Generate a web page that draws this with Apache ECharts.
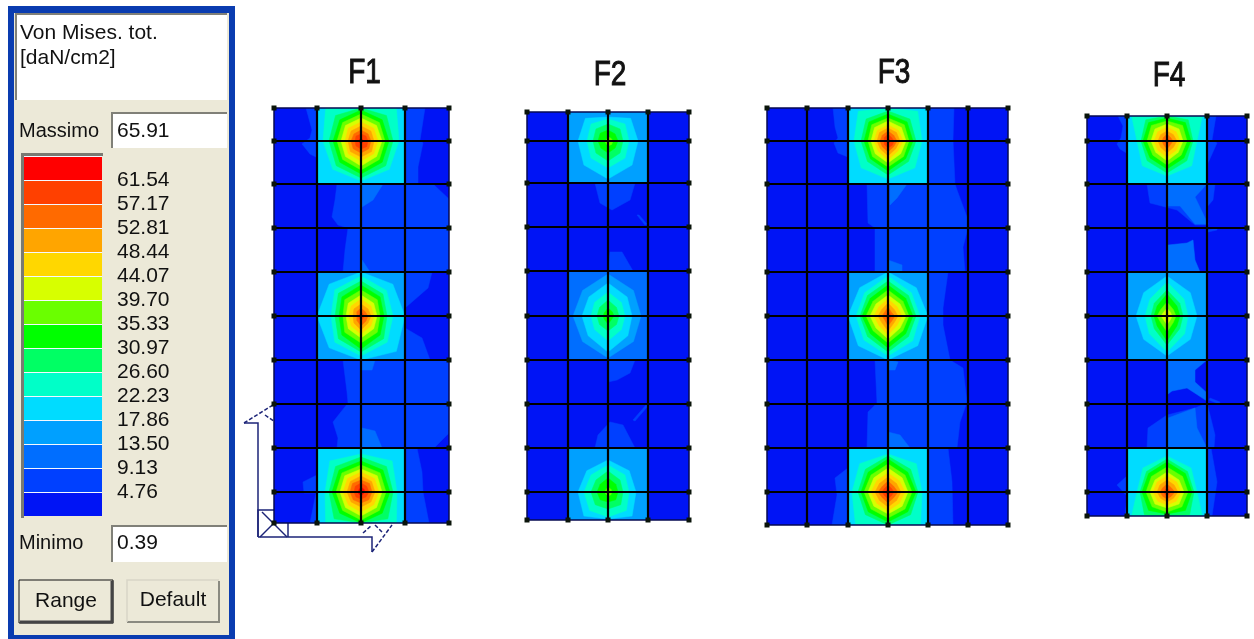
<!DOCTYPE html>
<html><head><meta charset="utf-8">
<script src="https://cdn.jsdelivr.net/npm/echarts@6/dist/echarts.min.js"></script>
<style>html,body{margin:0;padding:0;background:#fff}#c{width:1254px;height:639px;filter:blur(0.4px)}</style>
</head><body><div id="c"></div>
<script>
// ---------- legend ----------
const legendLevels = [0.39,4.76,9.13,13.50,17.86,22.23,26.60,30.97,35.33,39.70,44.07,48.44,52.81,57.17,61.54,65.91];
const legendColors = ['#0014f5','#0040ff','#006eff','#00a0ff','#00dcff','#00ffc8','#00ff64','#00ff00','#6aff00','#d7ff00','#ffd700','#ffa500','#ff6a00','#ff4000','#ff0000'];
const titleText = ['Von Mises. tot.','[daN/cm2]'];
const maxValue = '65.91', minValue = '0.39';
const panelNames = ['F1','F2','F3','F4'];

// ---------- mesh lines per panel (distance from panel's top-left) ----------
const F1_meshX=[0,43,87,131,175], F1_meshY=[0,33,76,120,164,208,252,296,340,384,415];
const F2_meshX=[0,41,81,121,162], F2_meshY=[0,29,71,115,159,204,248,292,336,380,408];
const F3_meshX=[0,40,81,121,161,201,241], F3_meshY=[0,33,76,120,164,208,252,296,340,384,417];
const F4_meshX=[0,40,80,120,160], F4_meshY=[0,25,68,112,156,200,244,288,332,376,400];

// ---------- low-stress zones: [band, [x,y],[x,y]...] ----------
const F1_zones=[
 [1,[32,0],[44,0],[44,50],[36,46],[28,36],[36,30],[38,22]],
 [1,[130,0],[151,0],[146,32],[149,35],[144,59],[144,76],[130,76]],
 [1,[63,76],[159,76],[175,91],[175,164],[69,164],[71,142],[74,120],[64,117],[58,109],[61,92]],
 [1,[131,164],[158,164],[154,180],[131,200]],
 [1,[131,220],[148,230],[156,252],[131,252]],
 [1,[69,252],[175,252],[175,325],[160,340],[63,340],[64,330],[59,314],[74,295],[73,284]],
 [1,[131,340],[143,340],[148,364],[149,384],[155,415],[131,415]],
 [1,[29,374],[43,367],[43,415],[36,415],[42,385],[30,385]],
 [2,[88,76],[109,76],[99,92],[88,99]],
 [2,[88,152],[96,164],[88,164]],
 [2,[88,252],[101,252],[98,262],[88,262]],
 [2,[88,320],[101,323],[108,340],[88,340]]
];
const F2_zones=[
 [1,[68,71],[108,71],[103,88],[85,98],[73,91]],
 [1,[110,103],[112,103],[120,112],[118,113]],
 [1,[83,140],[95,140],[106,159],[81,159]],
 [1,[81,248],[108,248],[103,261],[90,268],[81,270]],
 [1,[106,308],[119,293],[121,294],[108,309]],
 [1,[83,310],[96,313],[108,336],[68,336],[71,323]]
];
const F3_zones=[
 [1,[66,0],[81,0],[81,49],[71,45],[67,35],[71,30],[68,19]],
 [1,[161,0],[187,0],[186,32],[188,76],[161,76]],
 [1,[100,76],[188,76],[190,82],[200,109],[201,120],[196,139],[198,164],[108,164],[108,120],[101,115]],
 [1,[161,164],[181,164],[176,200],[176,217],[183,252],[161,252]],
 [1,[108,252],[183,252],[196,260],[200,294],[193,314],[190,340],[100,340],[101,304],[110,295]],
 [1,[161,340],[181,340],[185,374],[186,417],[161,417]],
 [1,[68,370],[81,360],[81,417],[65,417],[70,387]],
 [2,[123,76],[140,76],[130,90],[123,97]],
 [2,[121,252],[131,254],[128,262],[121,262]],
 [2,[121,324],[133,327],[143,340],[121,340]],
 [2,[121,152],[135,157],[135,164],[121,164]]
];
const F4_zones=[
 [1,[31,0],[41,0],[41,38],[33,33],[30,28],[34,22],[36,10]],
 [1,[120,0],[129,0],[125,24],[130,27],[121,47],[120,68]],
 [1,[60,68],[128,68],[126,84],[120,91],[121,109],[108,109],[90,94],[63,87]],
 [2,[81,68],[120,68],[108,81],[121,108],[108,108],[93,90],[81,90]],
 [1,[121,114],[130,112],[130,114],[121,116]],
 [2,[81,129],[100,127],[106,124],[108,144],[113,156],[81,156]],
 [2,[81,244],[120,244],[108,254],[108,266],[120,277],[120,285],[100,272],[85,275],[81,278]],
 [1,[123,282],[133,286],[132,288],[122,284]],
 [1,[60,332],[61,312],[80,299],[108,292],[120,287],[128,319],[127,332]],
 [2,[81,302],[108,292],[110,312],[120,332],[81,332]],
 [1,[120,332],[124,332],[130,366],[125,400],[120,400]],
 [1,[30,369],[41,359],[41,400],[38,400],[40,380]]
];

// ---------- hot spots: [centreX, centreY, plateLeft, plateTop, plateRight, plateBottom, plateBand] ----------
const F1_spots=[[87,33,43,0,131,76,4],[87,208,43,164,131,252,3],[87,384,43,340,131,415,4]];
const F2_spots=[[81,29,41,0,121,71,3],[81,204,41,159,121,248,2],[81,380,41,336,121,408,3]];
const F3_spots=[[121,33,81,0,161,76,4],[121,208,81,164,161,252,3],[121,384,81,340,161,417,4]];
const F4_spots=[[80,25,40,0,120,68,4],[80,200,40,156,120,244,3],[80,376,40,332,120,400,4]];

// ---------- contour rings: [band, E,NE,N,NW,W,SW,S,SE] reach from the spot centre ----------
const F1_rings=[[
 [5,38,50,35,50,38,40,40,40],[6,32,36,33,36,32,35,37,35],[7,28,30,31,30,28,30,33,30],[8,24,26,27,26,24,26,29,26],[9,21,22,23,22,20,22,25,22],[10,17,18,19,18,16,18,20,18],[11,13,14,15,14,13,15,16,15],[12,10,10,11,10,10,11,12,11],[13,7,7,7,7,6,7,8,8],[14,2,2,3,2,2,2,3,2]
],[
 [4,44,45,44,45,44,45,44,50],[5,32,36,40,37,30,37,40,37],[6,26,31,35,32,26,32,36,32],[7,23,27,31,27,22,27,33,27],[8,19,23,26,23,18,23,27,23],[9,16,18,21,18,15,18,22,18],[10,13,14,17,14,12,14,18,14],[11,10,10,12,10,8,10,14,10],[12,7,6,8,6,4,6,10,7],[13,4,3,4,2,2,3,5,3]
],[
 [5,36,44,38,44,36,50,32,50],[6,32,36,35,36,32,38,32,38],[7,29,31,31,31,29,30,32,30],[8,25,27,27,27,25,26,28,26],[9,21,23,23,23,21,22,24,22],[10,18,19,20,19,18,18,20,18],[11,14,15,16,15,14,14,15,14],[12,11,12,12,12,11,11,11,11],[13,8,8,9,8,7,7,7,7],[14,4,4,5,3,3,3,3,3]
]];
const F2_rings=[[
 [4,30,32,24,32,30,34,38,34],[5,21,24,22,24,21,24,27,24],[6,15,17,17,17,15,17,20,17],[7,10,10,11,11,10,10,12,10],[8,5,4,4,2,3,3,5,5]
],[
 [3,33,36,42,36,35,36,42,36],[4,24,27,33,27,26,28,36,28],[5,17,19,24,19,17,19,25,19],[6,11,12,16,12,11,12,15,12],[7,6,6,8,5,5,5,8,5]
],[
 [4,28,30,32,30,30,34,27,34],[5,21,24,27,24,24,26,25,26],[6,15,17,21,17,17,18,17,18],[7,10,11,14,11,11,11,10,11],[8,4,4,5,3,3,3,4,4]
]];
const F3_rings=[[
 [5,34,42,33,42,34,38,38,38],[6,28,31,30,31,27,29,34,29],[7,25,27,27,27,24,25,30,25],[8,21,23,23,23,20,22,26,22],[9,18,19,20,19,17,18,22,18],[10,15,15,16,15,14,14,19,14],[11,12,12,13,12,11,11,15,11],[12,9,8,10,8,8,8,11,8],[13,6,5,7,5,4,5,7,6],[14,2,2,2,1,1,1,2,2]
],[
 [4,40,40,44,40,40,42,44,42],[5,32,33,40,33,32,34,40,35],[6,28,29,35,29,28,29,36,29],[7,25,25,31,25,26,25,32,25],[8,21,21,26,21,22,21,27,21],[9,18,17,21,17,18,17,23,17],[10,14,13,17,13,14,13,19,13],[11,10,9,13,9,10,9,15,9],[12,7,5,9,5,6,5,10,6],[13,3,3,5,2,2,2,5,3]
],[
 [5,34,40,38,40,36,46,33,46],[6,30,32,36,32,30,32,33,32],[7,28,28,33,28,27,28,30,28],[8,24,24,28,24,24,24,26,24],[9,20,20,24,20,20,20,22,20],[10,17,16,19,16,17,16,19,16],[11,13,12,15,12,13,12,15,12],[12,10,8,11,8,10,8,11,8],[13,6,5,7,5,6,5,7,5],[14,3,2,3,2,2,2,3,2]
]];
const F4_rings=[[
 [5,30,50,25,50,30,35,35,35],[6,26,30,25,30,26,28,32,28],[7,24,26,23,26,24,24,28,24],[8,20,22,20,22,20,20,24,20],[9,16,17,17,17,16,16,20,16],[10,13,13,14,13,13,13,16,13],[11,10,9,10,9,9,9,12,9],[12,6,5,7,5,5,5,8,5],[13,3,2,3,2,3,2,3,2]
],[
 [4,30,33,40,33,31,33,40,33],[5,21,24,34,24,22,25,36,25],[6,16,18,26,18,16,18,29,18],[7,13,14,22,14,13,14,25,14],[8,9,9,14,9,10,9,16,9],[9,5,5,8,5,6,5,9,5],[10,2,2,4,1,2,1,4,2]
],[
 [5,30,34,36,34,30,50,24,50],[6,27,29,33,29,27,32,24,32],[7,25,26,30,26,25,26,22,26],[8,21,22,25,22,21,21,20,21],[9,17,17,20,17,17,17,16,17],[10,14,14,16,14,14,13,13,13],[11,11,10,12,10,10,9,10,9],[12,8,6,8,6,7,6,7,6],[13,4,3,4,3,3,3,4,3]
]];

// ---------- assemble ----------
const panelMesh=[[F1_meshX,F1_meshY],[F2_meshX,F2_meshY],[F3_meshX,F3_meshY],[F4_meshX,F4_meshY]];
const panelZones=[F1_zones,F2_zones,F3_zones,F4_zones];
const panelSpots=[F1_spots,F2_spots,F3_spots,F4_spots];
const panelRings=[F1_rings,F2_rings,F3_rings,F4_rings];
const panelBox=[[274,108],[527,112],[767,108],[1087,116]];
const titlePos=[[364.5,73],[610,75.5],[894,73],[1169,76.5]];
const K=Math.SQRT1_2;
const DIRS=[[1,0],[K,-K],[0,-1],[-K,-K],[-1,0],[-K,K],[0,1],[K,K]];
const clampTo=(v,a,b)=>Math.max(a,Math.min(b,v));

function buildShapes(i){
  const mx=panelMesh[i][0], my=panelMesh[i][1], W=mx[mx.length-1], H=my[my.length-1];
  const out=[{band:0,pts:[[0,0],[W,0],[W,H],[0,H]]}];
  panelZones[i].forEach(z=>out.push({band:z[0],pts:z.slice(1)}));
  panelSpots[i].forEach((s,k)=>{
    const [cx,cy,l,t,r,b,base]=s;
    out.push({band:base,pts:[[l,t],[r,t],[r,b],[l,b]]});
    panelRings[i][k].forEach(ring=>{
      const pts=DIRS.map((d,j)=>[clampTo(cx+d[0]*ring[j+1],l,r),clampTo(cy+d[1]*ring[j+1],t,b)]);
      out.push({band:ring[0],pts});
    });
  });
  return out;
}
function buildMesh(i){
  const mx=panelMesh[i][0], my=panelMesh[i][1], W=mx[mx.length-1], H=my[my.length-1], seg=[];
  mx.forEach(x=>seg.push([[x,0],[x,H],(x===0||x===W)]));
  my.forEach(y=>seg.push([[0,y],[W,y],(y===0||y===H)]));
  return seg;
}
function buildNodes(i){
  const mx=panelMesh[i][0], my=panelMesh[i][1], W=mx[mx.length-1], H=my[my.length-1], n=[];
  mx.forEach(x=>my.forEach(y=>{ if(x===0||x===W||y===0||y===H) n.push([x,y]); }));
  return n;
}

const grids=[],xAxes=[],yAxes=[],series=[];
// legend strip
grids.push({left:24,top:156,width:78,height:360,show:false});
xAxes.push({type:'value',gridIndex:0,min:0,max:1,show:false});
yAxes.push({type:'value',gridIndex:0,min:legendLevels[0],max:legendLevels[15],position:'right',
  axisLine:{show:false},axisTick:{show:false},splitLine:{show:false},
  axisLabel:{show:true,margin:15,padding:[0,0,8,0],fontFamily:'Liberation Sans',fontSize:21,color:'#111',
    customValues:legendLevels.slice(1,15),formatter:v=>v.toFixed(2)}});
series.push({type:'custom',xAxisIndex:0,yAxisIndex:0,silent:true,
  data:legendColors.map((c,k)=>[k]),
  renderItem:(p,api)=>{
    const k=p.dataIndex, a=api.coord([0,legendLevels[k+1]]), b=api.coord([1,legendLevels[k]]);
    return {type:'group',children:[
      {type:'rect',shape:{x:a[0],y:a[1],width:b[0]-a[0],height:b[1]-a[1]},style:{fill:'#f4f8ff'}},
      {type:'rect',shape:{x:a[0],y:a[1]+1,width:b[0]-a[0],height:b[1]-a[1]-1},style:{fill:legendColors[k]}}
    ]};
  }});

panelNames.forEach((name,i)=>{
  const mx=panelMesh[i][0], my=panelMesh[i][1], W=mx[mx.length-1], H=my[my.length-1];
  const g=i+1;
  grids.push({left:panelBox[i][0],top:panelBox[i][1],width:W,height:H,show:false});
  xAxes.push({type:'value',gridIndex:g,min:0,max:W,show:false});
  yAxes.push({type:'value',gridIndex:g,min:0,max:H,inverse:true,show:false});
  const shapes=buildShapes(i), mesh=buildMesh(i);
  series.push({type:'custom',name,xAxisIndex:g,yAxisIndex:g,silent:true,clip:true,z:3,
    data:shapes.map((s,k)=>[k]),
    renderItem:(p,api)=>{
      const s=shapes[p.dataIndex];
      return {type:'polygon',shape:{points:s.pts.map(q=>api.coord(q))},style:{fill:legendColors[s.band],stroke:legendColors[s.band],lineWidth:0.5}};
    }});
  series.push({type:'custom',xAxisIndex:g,yAxisIndex:g,silent:true,clip:false,z:4,
    data:mesh.map((s,k)=>[k]),
    renderItem:(p,api)=>{
      const s=mesh[p.dataIndex], a=api.coord(s[0]), b=api.coord(s[1]);
      return {type:'line',shape:{x1:a[0],y1:a[1],x2:b[0],y2:b[1]},style:{stroke:s[2]?'#060a50':'#000',lineWidth:s[2]?1.5:2.2}};
    }});
  series.push({type:'scatter',xAxisIndex:g,yAxisIndex:g,silent:true,z:5,symbol:'rect',symbolSize:5,
    itemStyle:{color:'#0a140a',opacity:1},data:buildNodes(i),clip:false});
});

// ---------- dialog and axis icon ----------
const FONT='"Liberation Sans"';
const rect=(x,y,w,h,fill,stroke)=>({type:'rect',shape:{x,y,width:w,height:h},style:{fill,stroke:stroke||null,lineWidth:stroke?1:0}});
const txt=(x,y,t,size,color)=>({type:'text',x,y,style:{text:t,fontFamily:FONT,fontSize:size||20,fill:color||'#111',verticalAlign:'middle'}});
const ln=(pts,color,w,dash)=>({type:'polyline',shape:{points:pts},style:{stroke:color,lineWidth:w||1.5,fill:null,lineDash:dash||null}});
const NAVY='#1c2478';
const gfx=[
  rect(8,6,227,633,'#0a3cb0'),
  rect(14,13,215,622,'#ece9d8'),
  rect(16,14,211,86,'#ffffff'),
  ln([[16,100],[16,14],[227,14]],'#808078',2),
  txt(20,33,titleText[0],21),
  txt(20,58,titleText[1],21),
  txt(19,131,'Massimo',20),
  rect(111,112,116,36,'#ffffff'),
  ln([[112,148],[112,113],[227,113]],'#808078',2),
  txt(117,131,maxValue,21),
  ln([[22.5,518],[22.5,154.5],[103,154.5]],'#7a7a72',3),
  txt(19,543,'Minimo',20),
  rect(111,525,116,37,'#ffffff'),
  ln([[112,562],[112,526],[227,526]],'#808078',2),
  txt(117,543,minValue,21),
  rect(19,580,94,43,'#ece9d8','#111'),
  ln([[20,622],[112,622],[112,581]],'#444',3),
  {type:'text',x:66,y:601,style:{text:'Range',fontFamily:FONT,fontSize:21,fill:'#111',align:'center',verticalAlign:'middle'}},
  rect(127,580,93,43,'#ece9d8'),
  ln([[127,622],[219,622],[219,581]],'#8a8a80',2),
  ln([[127,622],[127,580],[219,580]],'#d8d5c6',1.5),
  {type:'text',x:173,y:600,style:{text:'Default',fontFamily:FONT,fontSize:21,fill:'#111',align:'center',verticalAlign:'middle'}},
  // global-axis icon
  ln([[258,537],[258,423],[244,423]],NAVY),
  ln([[244,423],[273,405]],NAVY,1.5,[4,2]),
  ln([[265,415],[275,422]],NAVY,1.5,[4,2]),
  ln([[258,537],[372,537],[372,552]],NAVY),
  ln([[372,552],[392,525]],NAVY,1.5,[4,2]),
  ln([[363,533],[372,525]],NAVY,1.5,[4,2]),
  ln([[375,525],[382,532]],NAVY,1.5,[4,2]),
  ln([[258,537],[258,510],[274,510]],NAVY),
  ln([[288,523],[288,537]],NAVY),
  ln([[262,512],[287,537]],NAVY),
  ln([[260,537],[275,522]],NAVY)
];
panelNames.forEach((n,i)=>gfx.push({type:'text',x:titlePos[i][0],y:titlePos[i][1],scaleX:0.8,
  style:{text:n,fontFamily:FONT,fontSize:35,fill:'#111',stroke:'#111',lineWidth:1,align:'center',verticalAlign:'middle'}}));

const chart=echarts.init(document.getElementById('c'),null,{renderer:'canvas'});
chart.setOption({animation:false,backgroundColor:'#fff',grid:grids,xAxis:xAxes,yAxis:yAxes,series,graphic:{elements:gfx}});
</script>
</body></html>
